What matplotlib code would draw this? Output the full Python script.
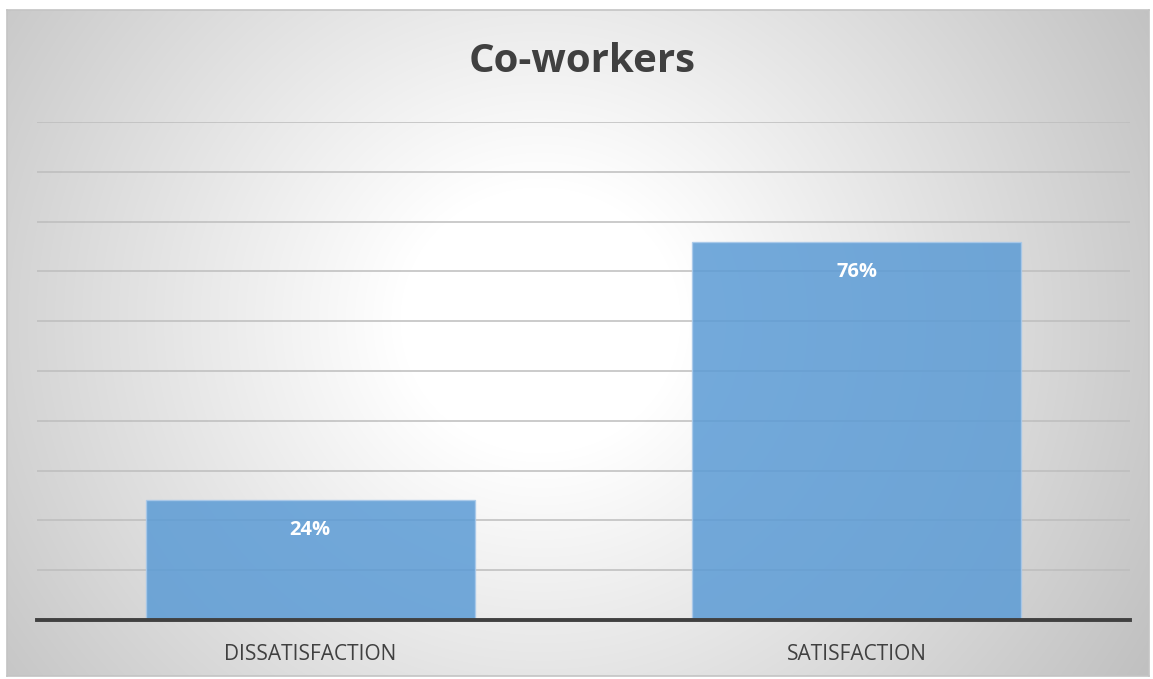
import numpy as np
import matplotlib.pyplot as plt

# survey result: share of respondents
categories = ["DISSATISFACTION", "SATISFACTION"]
values = [24, 76]
value_labels = ["24%", "76%"]

W, H = 1153, 679
fig = plt.figure(figsize=(W / 100, H / 100), dpi=100)
fig.patch.set_facecolor("white")

# radial grey-to-white background behind the chart
bg = fig.add_axes([7 / W, 3 / H, 1142 / W, 666 / H])
yy, xx = np.mgrid[0:666, 0:1142]
cx, cy = 540 - 7, 320 - 10
r = np.sqrt(((xx - cx) / 1.0) ** 2 + ((yy - cy) / 0.95) ** 2)
shade = np.clip(255 - 0.11 * np.maximum(r - 140, 0), 190, 255) / 255.0
bg.imshow(np.dstack([shade] * 3), aspect="auto", interpolation="bilinear")
bg.set_xticks([])
bg.set_yticks([])
for s in bg.spines.values():
    s.set_color("#c4c4c4")
    s.set_linewidth(1.2)

ax = fig.add_axes([37 / W, 59 / H, 1093 / W, 498 / H])
ax.patch.set_alpha(0)
x = np.arange(len(categories))
ax.set_ylim(0, 100)
ax.set_xlim(-0.5, len(categories) - 0.5)
ax.set_yticks(np.arange(10, 101, 10))
ax.yaxis.grid(True, color="#bdbdbd", linewidth=1.1)
ax.set_axisbelow(True)

bars = ax.bar(x, values, width=0.602, color="#5b9bd5", alpha=0.85,
              edgecolor="#a9c9ea", linewidth=1.0, zorder=2)
for rect, lab in zip(bars, value_labels):
    ax.annotate(lab, (rect.get_x() + rect.get_width() / 2, rect.get_height()),
                xytext=(0, -30), textcoords="offset pixels",
                ha="center", va="center", color="white", fontsize=14.5,
                fontweight="bold", family="Open Sans", zorder=3)

for s in ["top", "right", "left"]:
    ax.spines[s].set_visible(False)
ax.spines["bottom"].set_color("#404040")
ax.spines["bottom"].set_linewidth(2.8)
ax.spines["bottom"].set_zorder(4)
ax.tick_params(axis="y", left=False, labelleft=False)
ax.tick_params(axis="x", length=0, pad=17)
ax.set_xticks(x)
ax.set_xticklabels(categories, fontsize=15, color="#404040", family="Open Sans")

fig.text(582 / W, 1 - 62 / H, "Co-workers", ha="center", va="center",
         fontsize=29, fontweight="bold", color="#404040", family="Open Sans")

fig.savefig("out.png", dpi=100)
